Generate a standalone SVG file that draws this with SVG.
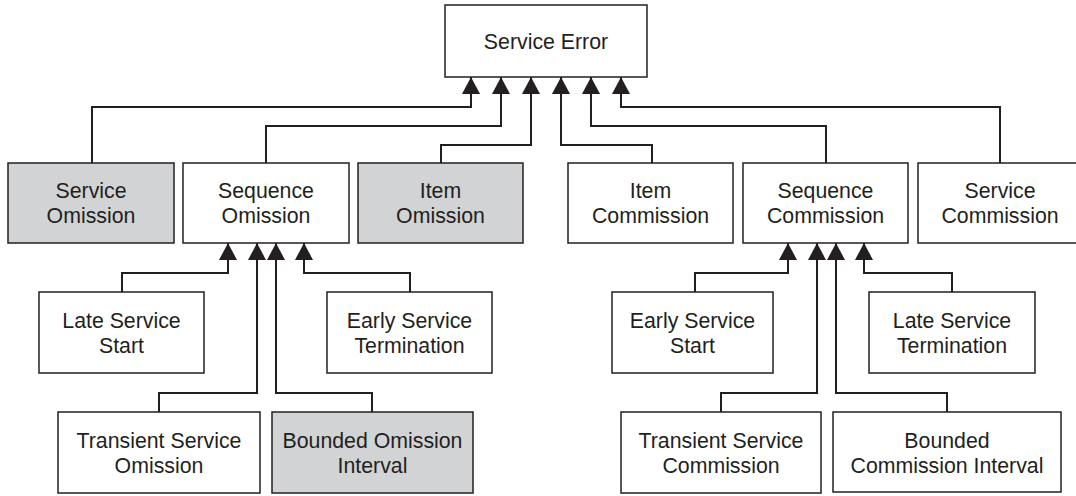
<svg xmlns="http://www.w3.org/2000/svg" width="1076" height="496" viewBox="0 0 1076 496">
<style>
.box{fill:#ffffff;stroke:#231f20;stroke-width:1.5}
.grey{fill:#d1d3d4}
.lbl{font-family:"Liberation Sans",Arial,sans-serif;font-size:21.3px;fill:#231f20;text-anchor:middle}
.con{fill:none;stroke:#231f20;stroke-width:2;marker-end:url(#arr)}
</style>
<defs>
<marker id="arr" markerUnits="userSpaceOnUse" markerWidth="18" markerHeight="18" refX="17" refY="9" orient="auto">
<path d="M0,0 L17,9 L0,18 z" fill="#231f20"/>
</marker>
</defs>
<rect width="1076" height="496" fill="#ffffff"/>
<g id="connectors">
<path class="con" d="M92,163 V107 H471 V77"/>
<path class="con" d="M266,163 V126 H501 V77"/>
<path class="con" d="M441,163 V145 H531 V77"/>
<path class="con" d="M652,163 V145 H561 V77"/>
<path class="con" d="M826,163 V126 H591 V77"/>
<path class="con" d="M1000,163 V107 H621 V77"/>
<path class="con" d="M122,292 V273 H228 V243"/>
<path class="con" d="M159,412 V393 H257 V243"/>
<path class="con" d="M372,412 V393 H276 V243"/>
<path class="con" d="M410,292 V273 H304 V243"/>
<path class="con" d="M695,292 V273 H788 V243"/>
<path class="con" d="M721,412 V393 H817 V243"/>
<path class="con" d="M947,412 V393 H836 V243"/>
<path class="con" d="M952,292 V273 H864 V243"/>
</g>
<g id="service-error">
<rect class="box" x="445" y="5" width="202" height="72"/>
<text class="lbl" x="546" y="48.5">Service Error</text>
</g>
<g id="service-omission">
<rect class="box grey" x="8" y="163" width="166" height="80"/>
<text class="lbl" x="91" y="197.5">Service</text>
<text class="lbl" x="91" y="223">Omission</text>
</g>
<g id="sequence-omission">
<rect class="box" x="183" y="163" width="166" height="80"/>
<text class="lbl" x="266" y="197.5">Sequence</text>
<text class="lbl" x="266" y="223">Omission</text>
</g>
<g id="item-omission">
<rect class="box grey" x="358" y="163" width="165" height="80"/>
<text class="lbl" x="440.5" y="197.5">Item</text>
<text class="lbl" x="440.5" y="223">Omission</text>
</g>
<g id="item-commission">
<rect class="box" x="568" y="163" width="165" height="80"/>
<text class="lbl" x="650.5" y="197.5">Item</text>
<text class="lbl" x="650.5" y="223">Commission</text>
</g>
<g id="sequence-commission">
<rect class="box" x="743" y="163" width="165" height="80"/>
<text class="lbl" x="825.5" y="197.5">Sequence</text>
<text class="lbl" x="825.5" y="223">Commission</text>
</g>
<g id="service-commission">
<rect class="box" x="918" y="163" width="165" height="80"/>
<text class="lbl" x="1000" y="197.5">Service</text>
<text class="lbl" x="1000" y="223">Commission</text>
</g>
<g id="late-service-start">
<rect class="box" x="39" y="292" width="165" height="81"/>
<text class="lbl" x="121.5" y="327.5">Late Service</text>
<text class="lbl" x="121.5" y="353">Start</text>
</g>
<g id="early-service-termination">
<rect class="box" x="327" y="292" width="165" height="81"/>
<text class="lbl" x="409.5" y="327.5">Early Service</text>
<text class="lbl" x="409.5" y="353">Termination</text>
</g>
<g id="transient-service-omission">
<rect class="box" x="58" y="412" width="202" height="81"/>
<text class="lbl" x="159" y="447.5">Transient Service</text>
<text class="lbl" x="159" y="473">Omission</text>
</g>
<g id="bounded-omission-interval">
<rect class="box grey" x="272" y="412" width="201" height="81"/>
<text class="lbl" x="372.5" y="447.5">Bounded Omission</text>
<text class="lbl" x="372.5" y="473">Interval</text>
</g>
<g id="early-service-start">
<rect class="box" x="612" y="292" width="161" height="81"/>
<text class="lbl" x="692.5" y="327.5">Early Service</text>
<text class="lbl" x="692.5" y="353">Start</text>
</g>
<g id="late-service-termination">
<rect class="box" x="869" y="292" width="166" height="81"/>
<text class="lbl" x="952" y="327.5">Late Service</text>
<text class="lbl" x="952" y="353">Termination</text>
</g>
<g id="transient-service-commission">
<rect class="box" x="621" y="412" width="200" height="81"/>
<text class="lbl" x="721" y="447.5">Transient Service</text>
<text class="lbl" x="721" y="473">Commission</text>
</g>
<g id="bounded-commission-interval">
<rect class="box" x="833" y="412" width="228" height="80"/>
<text class="lbl" x="947" y="447.5">Bounded</text>
<text class="lbl" x="947" y="473">Commission Interval</text>
</g>
</svg>
